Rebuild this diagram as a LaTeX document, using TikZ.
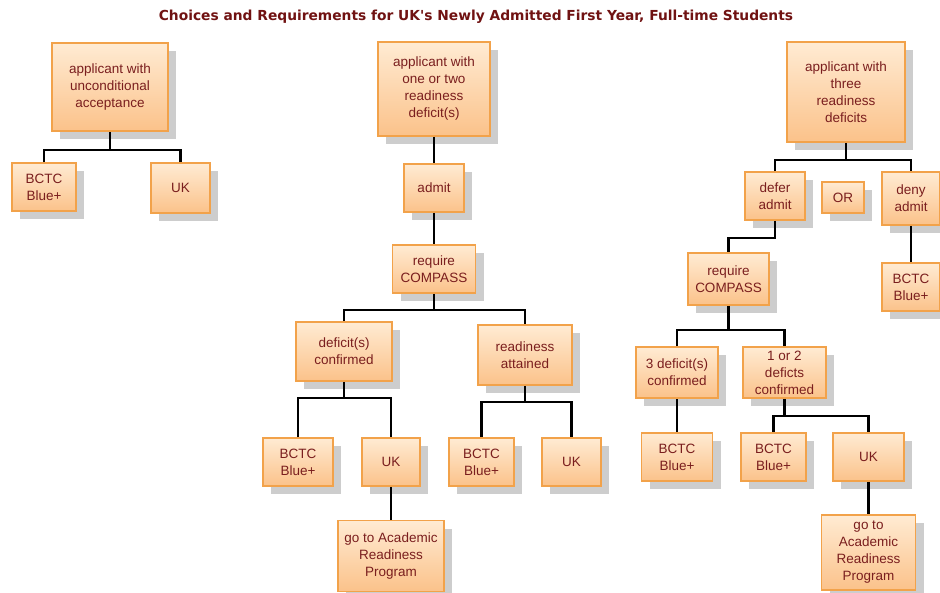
\documentclass[tikz,border=0pt]{standalone}
\usepackage{fontspec}
\setmainfont{Liberation Sans}
\newfontfamily\titlefont{DejaVu Sans}
\usetikzlibrary{shadows}
\definecolor{boxborder}{HTML}{F2A24A}
\definecolor{boxtop}{HTML}{FFEBD3}
\definecolor{boxbot}{HTML}{FBC28A}
\definecolor{txt}{HTML}{7A1E1E}
\definecolor{titlecol}{HTML}{701212}
\definecolor{shadowcol}{HTML}{CDCDCD}
\tikzset{
  box/.style={draw=boxborder, line width=1.8pt, top color=boxtop, bottom color=boxbot,
    inner sep=0pt, align=center, text=txt,
    font=\fontsize{13.5}{17}\selectfont,
    general shadow={fill=shadowcol, shadow xshift=8pt, shadow yshift=-8pt}},
  link/.style={draw=black, line width=2.2pt, line join=miter},
}
\begin{document}
\begin{tikzpicture}[x=1pt,y=-1pt]
\useasboundingbox (0,0) rectangle (940,593);
\node[font=\titlefont\bfseries\fontsize{13.8}{16}\selectfont, text=titlecol] (title) at (476,17)
  {Choices and Requirements for UK's Newly Admitted First Year, Full-time Students};

% left tree
\node[box, minimum width=116pt, minimum height=88pt] (A1) at (110,87) {applicant with\\unconditional\\acceptance};
\node[box, minimum width=64pt, minimum height=48pt] (A2) at (44,187) {BCTC\\Blue+};
\node[box, minimum width=59pt, minimum height=50pt] (A3) at (180.5,188) {UK};

% middle tree
\node[box, minimum width=112pt, minimum height=94pt] (M1) at (434,89) {applicant with\\one or two\\readiness\\deficit(s)};
\node[box, minimum width=60pt, minimum height=48pt] (M2) at (434,188) {admit};
\node[box, minimum width=83pt, minimum height=48pt] (M3) at (434,269) {require\\COMPASS};
\node[box, minimum width=96pt, minimum height=59pt] (M4) at (344,351.5) {deficit(s)\\confirmed};
\node[box, minimum width=94pt, minimum height=60pt] (M5) at (525,355) {readiness\\attained};
\node[box, minimum width=70pt, minimum height=48pt] (M6) at (298,462) {BCTC\\Blue+};
\node[box, minimum width=58pt, minimum height=48pt] (M7) at (391,462) {UK};
\node[box, minimum width=106pt, minimum height=71pt] (M8) at (391,556) {go to Academic\\Readiness\\Program};
\node[box, minimum width=65pt, minimum height=48pt] (M9) at (481.5,462) {BCTC\\Blue+};
\node[box, minimum width=59pt, minimum height=48pt] (M10) at (571.5,462) {UK};

% right tree
\node[box, minimum width=118pt, minimum height=100pt] (R1) at (846,92) {applicant with\\three\\readiness\\deficits};
\node[box, minimum width=60pt, minimum height=48pt] (R2) at (775,196) {defer\\admit};
\node[box, minimum width=42pt, minimum height=31pt] (R3) at (843,197.5) {OR};
\node[box, minimum width=58pt, minimum height=53pt] (R4) at (911,198.5) {deny\\admit};
\node[box, minimum width=58pt, minimum height=48pt] (R5) at (911,287) {BCTC\\Blue+};
\node[box, minimum width=81pt, minimum height=52pt] (R6) at (728.5,279) {require\\COMPASS};
\node[box, minimum width=82pt, minimum height=51pt] (R7) at (677,372.5) {3 deficit(s)\\confirmed};
\node[box, minimum width=83pt, minimum height=51pt] (R8) at (784.5,372.5) {1 or 2\\deficts\\confirmed};
\node[box, minimum width=71pt, minimum height=48pt] (R9) at (677,457) {BCTC\\Blue+};
\node[box, minimum width=65pt, minimum height=48pt] (R10) at (773.5,457) {BCTC\\Blue+};
\node[box, minimum width=71pt, minimum height=48pt] (R11) at (868.5,457) {UK};
\node[box, minimum width=94pt, minimum height=75pt] (R12) at (868.5,552.5) {go to\\Academic\\Readiness\\Program};

% junction points
\coordinate (jA) at (110,150);
\coordinate (jM3) at (434,310);
\coordinate (jM4) at (344,398);
\coordinate (jM5) at (525,402);
\coordinate (jR1) at (846,160);
\coordinate (jR6) at (728.5,330);
\coordinate (jR8) at (784.5,416);

% connectors
\draw[link] (A1.south) -- (jA);
\draw[link] (A2.north) |- (jA) -| (A3.north);

\draw[link] (M1.south) -- (M2.north);
\draw[link] (M2.south) -- (M3.north);
\draw[link] (M3.south) -- (jM3);
\draw[link] (M4.north) |- (jM3) -| (M5.north);
\draw[link] (M4.south) -- (jM4);
\draw[link] (M6.north) |- (jM4) -| (M7.north);
\draw[link] (M5.south) -- (jM5);
\draw[link] (M9.north) |- (jM5) -| (M10.north);
\draw[link] (M7.south) -- (M8.north);

\draw[link] (R1.south) -- (jR1);
\draw[link] (R2.north) |- (jR1) -| (R4.north);
\draw[link] (R4.south) -- (R5.north);
\draw[link] (R2.south) -- ++(0,17) -| (R6.north);
\draw[link] (R6.south) -- (jR6);
\draw[link] (R7.north) |- (jR6) -| (R8.north);
\draw[link] (R7.south) -- (R9.north);
\draw[link] (R8.south) -- (jR8);
\draw[link] (R10.north) |- (jR8) -| (R11.north);
\draw[link] (R11.south) -- (R12.north);
\end{tikzpicture}
\end{document}
